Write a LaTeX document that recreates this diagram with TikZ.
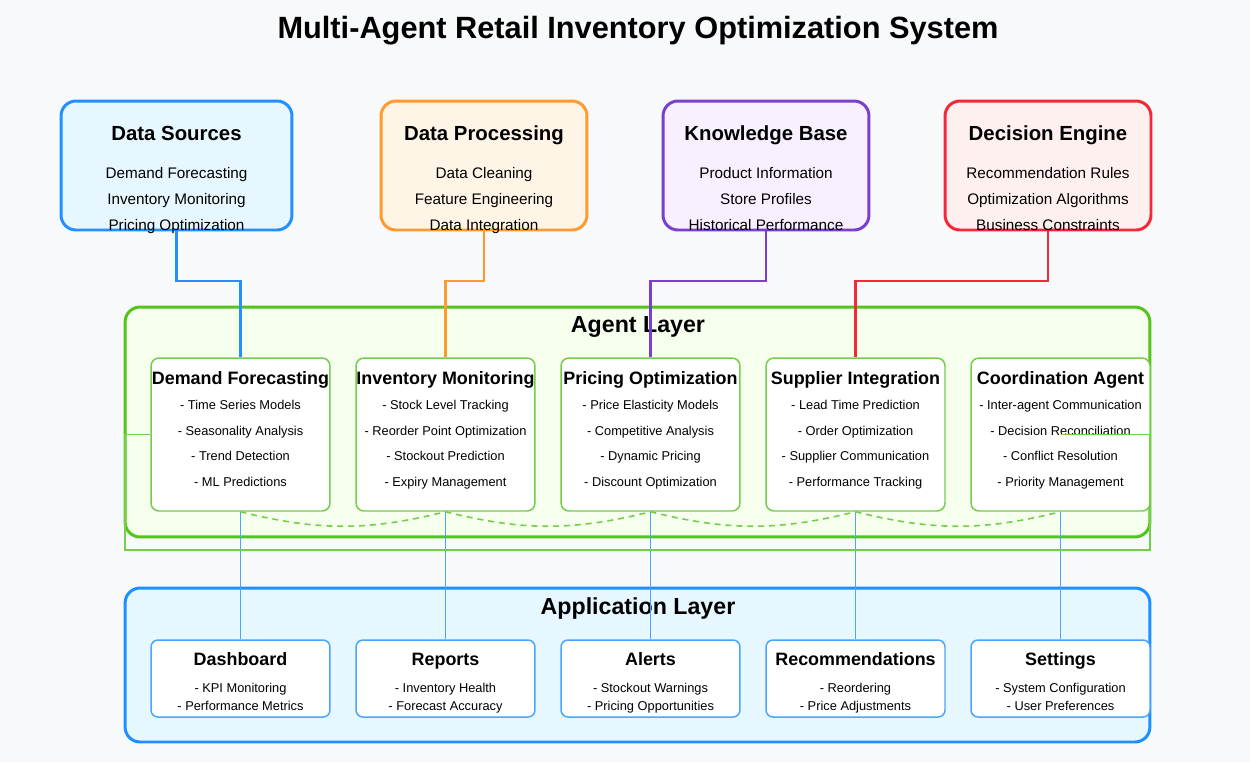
\documentclass[tikz,border=0pt]{standalone}
\usepackage{fontspec}
\setmainfont{Liberation Sans}

\definecolor{pagebg}{HTML}{F8F9FB}
\definecolor{dsedge}{HTML}{2290FF}
\definecolor{dsfill}{HTML}{E6F7FF}
\definecolor{dpedge}{HTML}{FF9A2E}
\definecolor{dpfill}{HTML}{FFF5E6}
\definecolor{kbedge}{HTML}{7B3FD0}
\definecolor{kbfill}{HTML}{F8F0FF}
\definecolor{deedge}{HTML}{F5283A}
\definecolor{defill}{HTML}{FFF0F0}
\definecolor{agedge}{HTML}{52C41A}
\definecolor{agfill}{HTML}{F6FFED}
\definecolor{agthin}{HTML}{76CC4C}
\definecolor{apedge}{HTML}{1E8FFF}
\definecolor{apfill}{HTML}{E6F7FF}
\definecolor{apthin}{HTML}{4AA5FF}

\tikzset{
  srcbox/.style={draw, line width=1.7pt, rounded corners=8.5pt, minimum width=4.12cm, minimum height=2.58cm, inner sep=0pt},
  layerbox/.style={draw, line width=1.7pt, rounded corners=8.5pt, minimum width=20.5cm, inner sep=0pt},
  agentbox/.style={draw=agthin, fill=white, line width=0.85pt, rounded corners=4.5pt, minimum width=3.58cm, minimum height=3.06cm, inner sep=0pt},
  appbox/.style={draw=apthin, fill=white, line width=0.85pt, rounded corners=4pt, minimum width=3.58cm, minimum height=1.54cm, inner sep=0pt},
  srchead/.style={anchor=base, inner sep=0pt, font=\bfseries\fontsize{11.6}{14}\selectfont},
  srcitem/.style={anchor=base, inner sep=0pt, font=\fontsize{8.7}{10}\selectfont},
  layerhead/.style={anchor=base, inner sep=0pt, font=\bfseries\fontsize{13.2}{16}\selectfont},
  boxhead/.style={anchor=base, inner sep=0pt, font=\bfseries\fontsize{10.2}{12}\selectfont},
  boxitem/.style={anchor=base, inner sep=0pt, font=\fontsize{7.3}{9}\selectfont},
  feed/.style={line width=1.4pt},
  uplink/.style={draw=apthin, line width=0.85pt},
  peer/.style={draw=agthin, line width=0.9pt, dash pattern=on 3.4pt off 2.8pt},
}

\begin{document}
\begin{tikzpicture}[x=0.02cm, y=-0.02cm]
  % page
  \fill[pagebg] (0,0) rectangle (1250,762);
  \useasboundingbox (0,0) rectangle (1250,762);
  \node[anchor=base, inner sep=0pt, font=\bfseries\fontsize{17.5}{21}\selectfont] (title) at (638,38) {Multi-Agent Retail Inventory Optimization System};

  % input boxes
  \node[srcbox, draw=dsedge, fill=dsfill, minimum width=4.62cm] (ds) at (176.5,165.5) {};
  \node[srchead] (ds-t) at (176.5,140) {Data Sources};
  \node[srcitem] (ds-a) at (176.5,178) {Demand Forecasting};
  \node[srcitem] (ds-b) at (176.5,204) {Inventory Monitoring};
  \node[srcitem] (ds-c) at (176.5,230) {Pricing Optimization};

  \node[srcbox, draw=dpedge, fill=dpfill] (dp) at (484,165.5) {};
  \node[srchead] (dp-t) at (484,140) {Data Processing};
  \node[srcitem] (dp-a) at (484,178) {Data Cleaning};
  \node[srcitem] (dp-b) at (484,204) {Feature Engineering};
  \node[srcitem] (dp-c) at (484,230) {Data Integration};

  \node[srcbox, draw=kbedge, fill=kbfill] (kb) at (766,165.5) {};
  \node[srchead] (kb-t) at (766,140) {Knowledge Base};
  \node[srcitem] (kb-a) at (766,178) {Product Information};
  \node[srcitem] (kb-b) at (766,204) {Store Profiles};
  \node[srcitem] (kb-c) at (766,230) {Historical Performance};

  \node[srcbox, draw=deedge, fill=defill] (de) at (1048,165.5) {};
  \node[srchead] (de-t) at (1048,140) {Decision Engine};
  \node[srcitem] (de-a) at (1048,178) {Recommendation Rules};
  \node[srcitem] (de-b) at (1048,204) {Optimization Algorithms};
  \node[srcitem] (de-c) at (1048,230) {Business Constraints};

  % layers
  \node[layerbox, draw=agedge, fill=agfill, minimum height=4.6cm] (agents) at (637.5,422) {};
  \node[layerhead] (agents-t) at (638,332) {Agent Layer};
  \node[layerbox, draw=apedge, fill=apfill, minimum height=3.08cm] (apps) at (637.5,665) {};
  \node[layerhead] (apps-t) at (638,614) {Application Layer};

  % agents
  \foreach \nm/\cx/\ti/\ia/\ib/\ic/\id in {
      df/240.5/Demand Forecasting/Time Series Models/Seasonality Analysis/Trend Detection/ML Predictions,
      im/445.5/Inventory Monitoring/Stock Level Tracking/Reorder Point Optimization/Stockout Prediction/Expiry Management,
      po/650.5/Pricing Optimization/Price Elasticity Models/Competitive Analysis/Dynamic Pricing/Discount Optimization,
      si/855.5/Supplier Integration/Lead Time Prediction/Order Optimization/Supplier Communication/Performance Tracking,
      co/1060.5/Coordination Agent/Inter-agent Communication/Decision Reconciliation/Conflict Resolution/Priority Management} {
    \node[agentbox] (\nm) at (\cx,434.5) {};
    \node[boxhead] (\nm-t) at (\cx,384) {\ti};
    \node[boxitem] (\nm-a) at (\cx,409) {- \ia};
    \node[boxitem] (\nm-b) at (\cx,435) {- \ib};
    \node[boxitem] (\nm-c) at (\cx,460) {- \ic};
    \node[boxitem] (\nm-d) at (\cx,486) {- \id};
  }

  % applications
  \foreach \nm/\cx/\ti/\ia/\ib in {
      db/240.5/Dashboard/KPI Monitoring/Performance Metrics,
      rp/445.5/Reports/Inventory Health/Forecast Accuracy,
      al/650.5/Alerts/Stockout Warnings/Pricing Opportunities,
      rc/855.5/Recommendations/Reordering/Price Adjustments,
      st/1060.5/Settings/System Configuration/User Preferences} {
    \node[appbox] (\nm) at (\cx,678.5) {};
    \node[boxhead] (\nm-t) at (\cx,665) {\ti};
    \node[boxitem] (\nm-a) at (\cx,692) {- \ia};
    \node[boxitem] (\nm-b) at (\cx,710) {- \ib};
  }

  % feeds into the agent layer
  \coordinate (bus) at (0,281);
  \draw[feed, dsedge] (ds.south) -- (ds.south |- bus) -| (df.north);
  \draw[feed, dpedge] (dp.south) -- (dp.south |- bus) -| (im.north);
  \draw[feed, kbedge] (kb.south) -- (kb.south |- bus) -| (po.north);
  \draw[feed, deedge] (de.south) -- (de.south |- bus) -| (si.north);

  % agents to applications
  \draw[uplink] (df.south) -- (db.north);
  \draw[uplink] (im.south) -- (rp.north);
  \draw[uplink] (po.south) -- (al.north);
  \draw[uplink] (si.south) -- (rc.north);
  \draw[uplink] (co.south) -- (st.north);

  % agent to agent
  \draw[peer] (df.south) to[bend right=14] (im.south);
  \draw[peer] (im.south) to[bend right=14] (po.south);
  \draw[peer] (po.south) to[bend right=14] (si.south);
  \draw[peer] (si.south) to[bend right=14] (co.south);
  \coordinate (loopl) at (125,550);
  \coordinate (loopr) at (1150,550);
  \draw[agthin, line width=0.85pt] (df.west) -| (loopl) -- (loopr) |- (co.center);
\end{tikzpicture}
\end{document}
